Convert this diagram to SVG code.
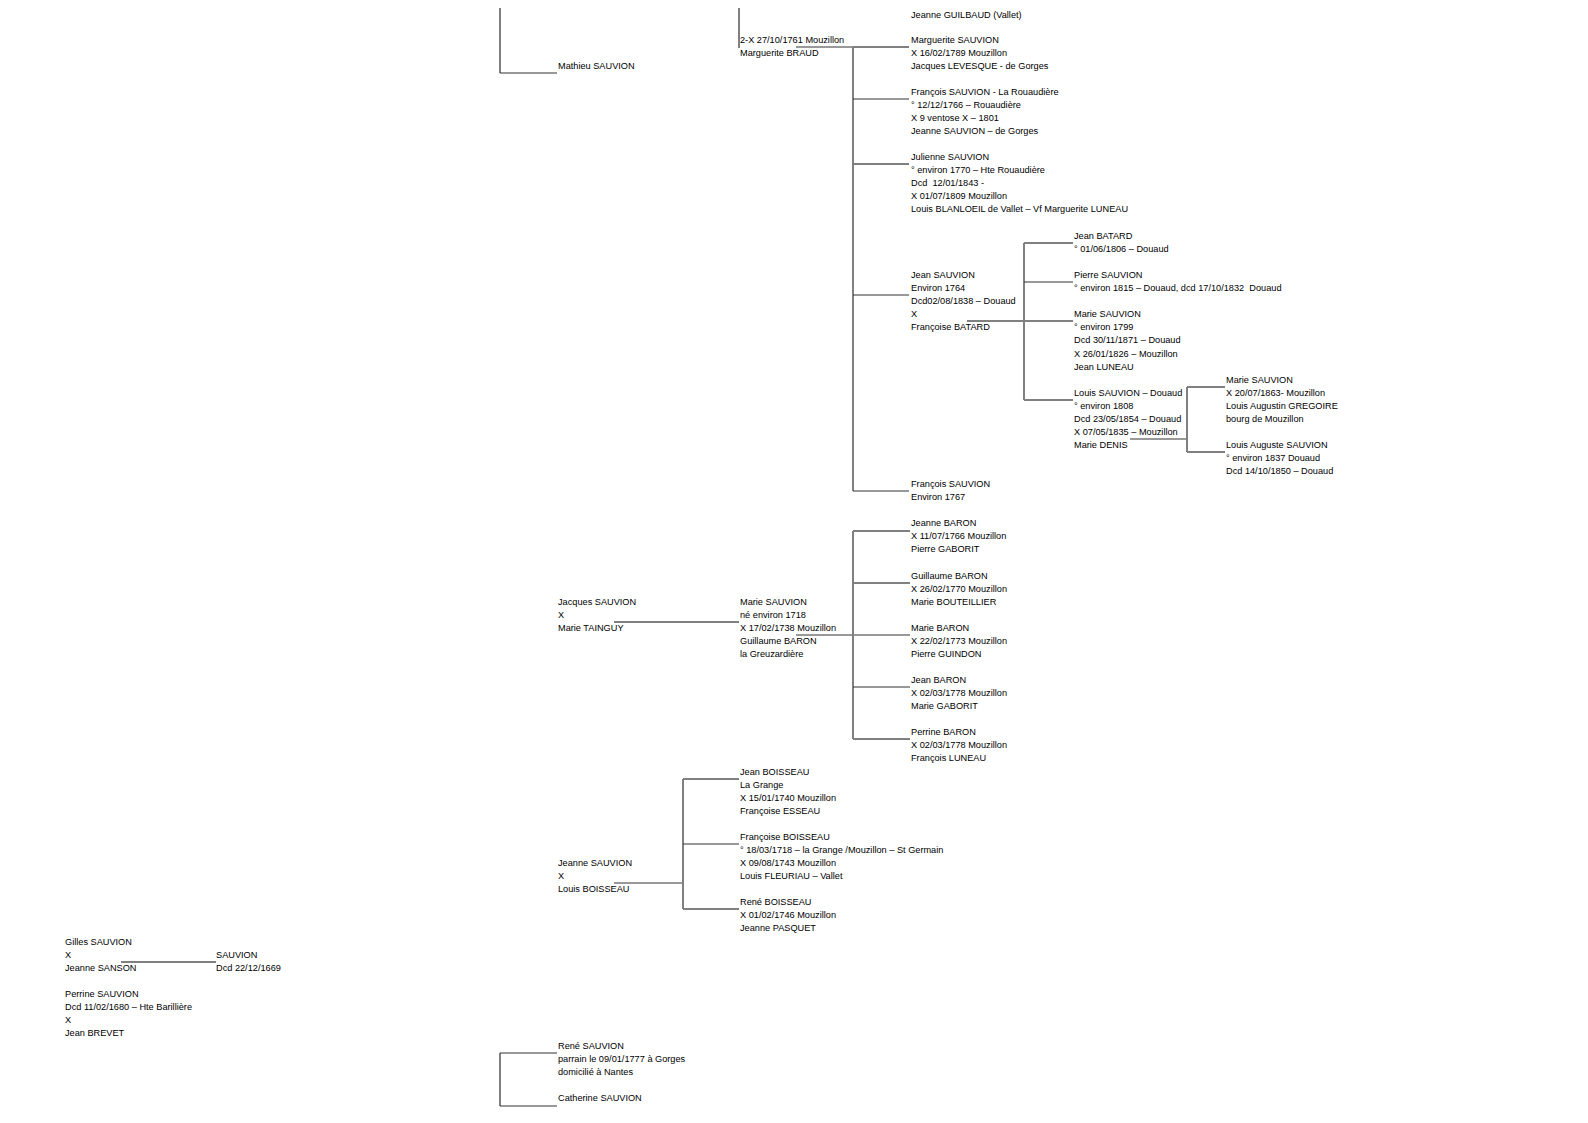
<svg xmlns="http://www.w3.org/2000/svg" width="1588" height="1123" viewBox="0 0 1588 1123">
<style>
text{font-family:"Liberation Sans",Arial,sans-serif;font-size:9.2px;fill:#000;white-space:pre}
.v{stroke:#808080;stroke-width:2;fill:none}
.h{stroke:#333;stroke-width:1;fill:none}
.g{stroke:#808080;stroke-width:2;fill:none}
</style>
<rect width="1588" height="1123" fill="#fff"/>
<g id="connectors">
<path class="v" d="M500,8V73"/><path class="h" d="M500,73H557"/>
<path class="v" d="M739,8V48"/>
<path class="h" d="M796,47H853"/>
<path class="v" d="M853,47V491"/>
<path class="g" d="M853,47H909"/>
<path class="h" d="M853,99H909"/>
<path class="g" d="M853,164H909"/>
<path class="h" d="M853,295H909"/>
<path class="h" d="M853,491H909"/>
<path class="g" d="M967,321H1073"/>
<path class="v" d="M1024,243V400"/>
<path class="g" d="M1024,243H1073"/>
<path class="h" d="M1024,282H1073"/>
<path class="g" d="M1024,400H1073"/>
<path class="h" d="M1130,439H1187"/>
<path class="v" d="M1187,387V452"/>
<path class="g" d="M1187,387H1225"/>
<path class="g" d="M1187,452H1225"/>
<path class="g" d="M614,622H739"/>
<path class="h" d="M796,635H910"/>
<path class="v" d="M853,531V739"/>
<path class="g" d="M853,531H910"/>
<path class="g" d="M853,583H910"/>
<path class="h" d="M853,687H910"/>
<path class="g" d="M853,739H910"/>
<path class="h" d="M614,883H683"/>
<path class="v" d="M683,779V909"/>
<path class="g" d="M683,779H739"/>
<path class="h" d="M683,844H739"/>
<path class="g" d="M683,909H739"/>
<path class="g" d="M121,962H216"/>
<path class="v" d="M500,1053V1106"/>
<path class="h" d="M500,1053H557"/><path class="h" d="M500,1106H557"/>
</g>
<g id="n-mathieu"><text x="558" y="69">Mathieu SAUVION</text></g>
<g id="n-braud"><text x="740" y="43">2-X 27/10/1761 Mouzillon</text><text x="740" y="56">Marguerite BRAUD</text></g>
<g id="n-guilbaud"><text x="911" y="18">Jeanne GUILBAUD (Vallet)</text></g>
<g id="n-marguerite"><text x="911" y="43">Marguerite SAUVION</text><text x="911" y="56">X 16/02/1789 Mouzillon</text><text x="911" y="69">Jacques LEVESQUE - de Gorges</text></g>
<g id="n-francois1"><text x="911" y="95">François SAUVION - La Rouaudière</text><text x="911" y="108">° 12/12/1766 – Rouaudière</text><text x="911" y="121">X 9 ventose X – 1801</text><text x="911" y="134">Jeanne SAUVION – de Gorges</text></g>
<g id="n-julienne"><text x="911" y="160">Julienne SAUVION</text><text x="911" y="173">° environ 1770 – Hte Rouaudière</text><text x="911" y="186">Dcd  12/01/1843 -</text><text x="911" y="199">X 01/07/1809 Mouzillon</text><text x="911" y="212">Louis BLANLOEIL de Vallet – Vf Marguerite LUNEAU</text></g>
<g id="n-jean"><text x="911" y="278">Jean SAUVION</text><text x="911" y="291">Environ 1764</text><text x="911" y="304">Dcd02/08/1838 – Douaud</text><text x="911" y="317">X</text><text x="911" y="330">Françoise BATARD</text></g>
<g id="n-francois2"><text x="911" y="487">François SAUVION</text><text x="911" y="500">Environ 1767</text></g>
<g id="n-jeanbatard"><text x="1074" y="239">Jean BATARD</text><text x="1074" y="252">° 01/06/1806 – Douaud</text></g>
<g id="n-pierre"><text x="1074" y="278">Pierre SAUVION</text><text x="1074" y="291">° environ 1815 – Douaud, dcd 17/10/1832  Douaud</text></g>
<g id="n-marie1"><text x="1074" y="317">Marie SAUVION</text><text x="1074" y="330">° environ 1799</text><text x="1074" y="343">Dcd 30/11/1871 – Douaud</text><text x="1074" y="357">X 26/01/1826 – Mouzillon</text><text x="1074" y="370">Jean LUNEAU</text></g>
<g id="n-louis"><text x="1074" y="396">Louis SAUVION – Douaud</text><text x="1074" y="409">° environ 1808</text><text x="1074" y="422">Dcd 23/05/1854 – Douaud</text><text x="1074" y="435">X 07/05/1835 – Mouzillon</text><text x="1074" y="448">Marie DENIS</text></g>
<g id="n-marie2"><text x="1226" y="383">Marie SAUVION</text><text x="1226" y="396">X 20/07/1863- Mouzillon</text><text x="1226" y="409">Louis Augustin GREGOIRE</text><text x="1226" y="422">bourg de Mouzillon</text></g>
<g id="n-louisauguste"><text x="1226" y="448">Louis Auguste SAUVION</text><text x="1226" y="461">° environ 1837 Douaud</text><text x="1226" y="474">Dcd 14/10/1850 – Douaud</text></g>
<g id="n-jacques"><text x="558" y="605">Jacques SAUVION</text><text x="558" y="618">X</text><text x="558" y="631">Marie TAINGUY</text></g>
<g id="n-marie3"><text x="740" y="605">Marie SAUVION</text><text x="740" y="618">né environ 1718</text><text x="740" y="631">X 17/02/1738 Mouzillon</text><text x="740" y="644">Guillaume BARON</text><text x="740" y="657">la Greuzardière</text></g>
<g id="n-jeannebaron"><text x="911" y="526">Jeanne BARON</text><text x="911" y="539">X 11/07/1766 Mouzillon</text><text x="911" y="552">Pierre GABORIT</text></g>
<g id="n-guillaumebaron"><text x="911" y="579">Guillaume BARON</text><text x="911" y="592">X 26/02/1770 Mouzillon</text><text x="911" y="605">Marie BOUTEILLIER</text></g>
<g id="n-mariebaron"><text x="911" y="631">Marie BARON</text><text x="911" y="644">X 22/02/1773 Mouzillon</text><text x="911" y="657">Pierre GUINDON</text></g>
<g id="n-jeanbaron"><text x="911" y="683">Jean BARON</text><text x="911" y="696">X 02/03/1778 Mouzillon</text><text x="911" y="709">Marie GABORIT</text></g>
<g id="n-perrinebaron"><text x="911" y="735">Perrine BARON</text><text x="911" y="748">X 02/03/1778 Mouzillon</text><text x="911" y="761">François LUNEAU</text></g>
<g id="n-jeanne"><text x="558" y="866">Jeanne SAUVION</text><text x="558" y="879">X</text><text x="558" y="892">Louis BOISSEAU</text></g>
<g id="n-jeanboisseau"><text x="740" y="775">Jean BOISSEAU</text><text x="740" y="788">La Grange</text><text x="740" y="801">X 15/01/1740 Mouzillon</text><text x="740" y="814">Françoise ESSEAU</text></g>
<g id="n-francoiseboisseau"><text x="740" y="840">Françoise BOISSEAU</text><text x="740" y="853">° 18/03/1718 – la Grange /Mouzillon – St Germain</text><text x="740" y="866">X 09/08/1743 Mouzillon</text><text x="740" y="879">Louis FLEURIAU – Vallet</text></g>
<g id="n-reneboisseau"><text x="740" y="905">René BOISSEAU</text><text x="740" y="918">X 01/02/1746 Mouzillon</text><text x="740" y="931">Jeanne PASQUET</text></g>
<g id="n-gilles"><text x="65" y="945">Gilles SAUVION</text><text x="65" y="958">X</text><text x="65" y="971">Jeanne SANSON</text></g>
<g id="n-sauvion"><text x="216" y="958">SAUVION</text><text x="216" y="971">Dcd 22/12/1669</text></g>
<g id="n-perrine"><text x="65" y="997">Perrine SAUVION</text><text x="65" y="1010">Dcd 11/02/1680 – Hte Barillière</text><text x="65" y="1023">X</text><text x="65" y="1036">Jean BREVET</text></g>
<g id="n-rene"><text x="558" y="1049">René SAUVION</text><text x="558" y="1062">parrain le 09/01/1777 à Gorges</text><text x="558" y="1075">domicilié à Nantes</text></g>
<g id="n-catherine"><text x="558" y="1101">Catherine SAUVION</text></g>
</svg>
